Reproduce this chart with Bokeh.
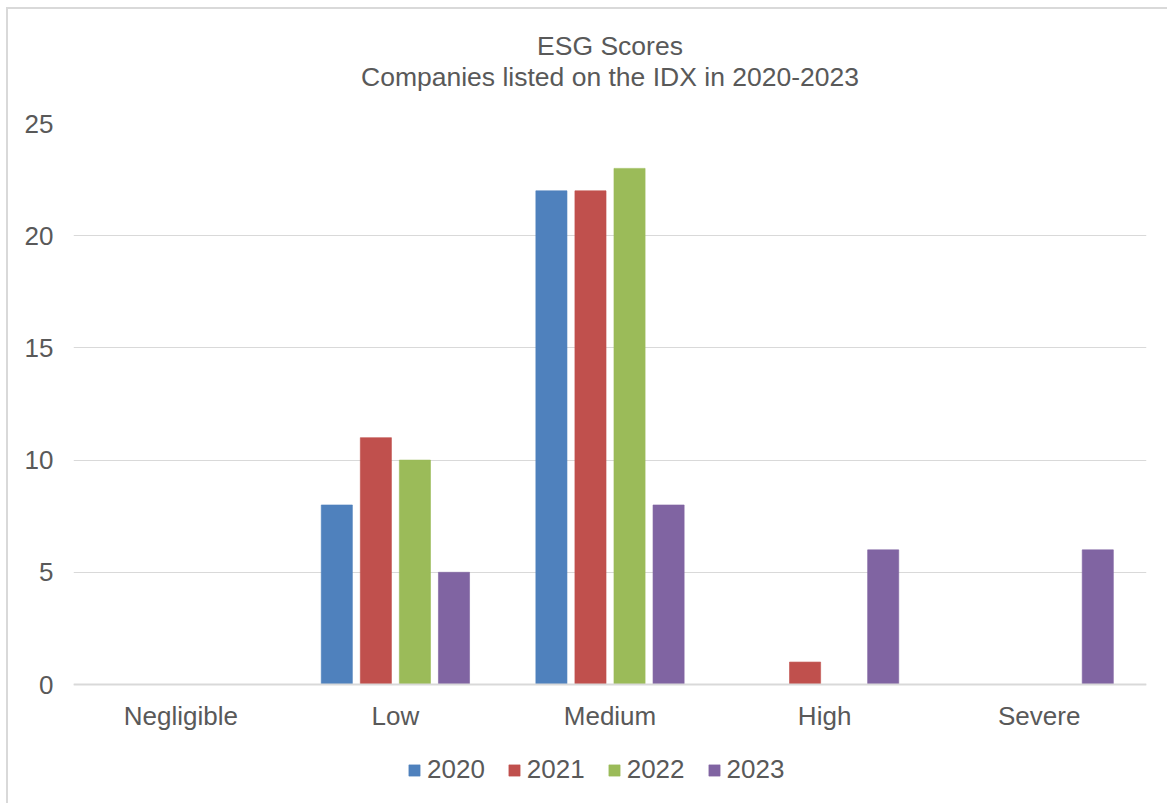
from bokeh.plotting import figure
from bokeh.models import ColumnDataSource, FactorRange, Range1d, Legend, LegendItem, Title, FixedTicker, Span
from bokeh.core.properties import value
from bokeh.transform import dodge
from bokeh.embed import file_html
from bokeh.resources import INLINE

categories = ["Negligible", "Low", "Medium", "High", "Severe"]
years = ["2020", "2021", "2022", "2023"]
v2020 = [0, 8, 22, 0, 0]
v2021 = [0, 11, 22, 1, 0]
v2022 = [0, 10, 23, 0, 0]
v2023 = [0, 5, 8, 6, 6]
y_ticks = [0, 5, 10, 15, 20, 25]
colors = ["#4F81BD", "#C0504D", "#9BBB59", "#8064A2"]
title_main = "ESG Scores"
title_sub = "Companies listed on the IDX in 2020-2023"

FONT = "Liberation Sans"
TXT = "#595959"

src = ColumnDataSource(dict(cat=categories, y2020=v2020, y2021=v2021, y2022=v2022, y2023=v2023,
                            zero=[0] * len(categories)))

# frame extends below the value axis so the category labels and legend sit inside it
p = figure(x_range=FactorRange(*categories), y_range=Range1d(-119 / 22.44, 25),
           frame_width=1073, frame_height=680, output_backend="svg", toolbar_location=None,
           min_border_left=65, min_border_right=21, min_border_top=114, min_border_bottom=0,
           outline_line_color=None, margin=(7, 0, 0, 6))
p.styles = {"border-left": "2px solid #D9D9D9", "border-top": "2px solid #D9D9D9"}

offsets = [-0.273, -0.091, 0.091, 0.273]
items = []
for yr, off, col in zip(years, offsets, colors):
    r = p.vbar(x=dodge("cat", off, range=p.x_range), top="y" + yr, bottom=0, width=0.145, source=src,
               fill_color=col, line_color=col, line_alpha=0.6, line_width=1)
    items.append(LegendItem(label=yr, renderers=[r]))

p.add_layout(Span(location=0, dimension="width", line_color="#D9D9D9", line_width=2))

# category labels under the zero line
p.text(x="cat", y="zero", text="cat", source=src, y_offset=31, text_align="center",
       text_baseline="middle", text_font=value(FONT), text_font_size="26px", text_color=TXT)

p.add_layout(Title(text=title_sub, align="center", offset=-17, standoff=64, text_font=FONT,
                   text_font_size="26.5px", text_font_style="normal", text_color=TXT), "above")
p.add_layout(Title(text=title_main, align="center", offset=-17, standoff=-67, text_font=FONT,
                   text_font_size="26.5px", text_font_style="normal", text_color=TXT), "above")

p.xaxis.visible = False
p.xgrid.grid_line_color = None
p.ygrid.grid_line_color = "#D9D9D9"
p.ygrid.grid_line_width = 1
p.yaxis.ticker = FixedTicker(ticks=y_ticks)
p.yaxis.axis_line_color = None
p.yaxis.major_tick_line_color = None
p.yaxis.minor_tick_line_color = None
p.yaxis.major_label_standoff = 14
p.yaxis.major_label_text_font = FONT
p.yaxis.major_label_text_font_size = "26px"
p.yaxis.major_label_text_color = TXT

legend = Legend(items=items, orientation="horizontal", location=(334, 18),
                border_line_color=None, background_fill_alpha=0,
                label_text_font=FONT, label_text_font_size="26px", label_text_color=TXT,
                label_height=30, glyph_width=14, glyph_height=14, label_standoff=6, spacing=22,
                padding=0, margin=0)
p.add_layout(legend)

open("out.html", "w").write(file_html(p, INLINE))
